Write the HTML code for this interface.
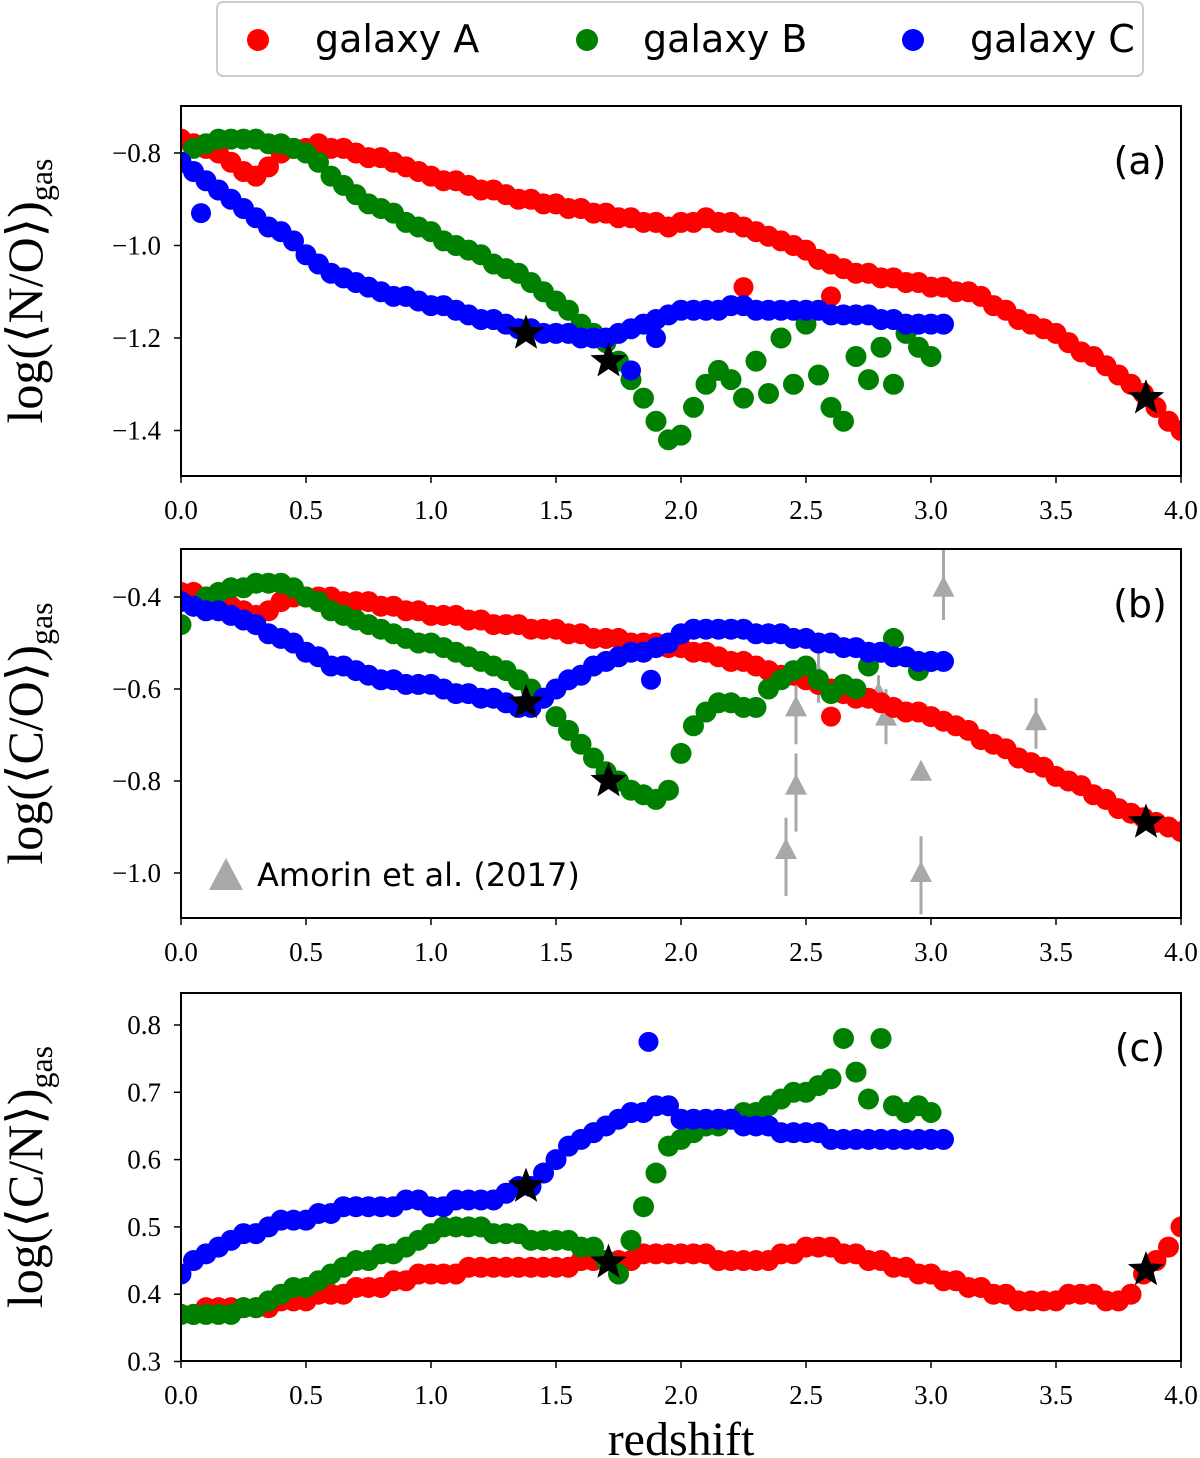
<!DOCTYPE html>
<html><head><meta charset="utf-8"><style>
html,body{margin:0;padding:0;background:#fff;}
svg{display:block;}
</style></head><body>
<svg id="chart" width="1200" height="1458" xmlns="http://www.w3.org/2000/svg"></svg>
<script>
const zGrid=[0,0.05,0.1,0.15,0.2,0.25,0.3,0.35,0.4,0.45,0.5,0.55,0.6,0.65,0.7,0.75,0.8,0.85,0.9,0.95,1.0,1.05,1.1,1.15,1.2,1.25,1.3,1.35,1.4,1.45,1.5,1.55,1.6,1.65,1.7,1.75,1.8,1.85,1.9,1.95,2.0,2.05,2.1,2.15,2.2,2.25,2.3,2.35,2.4,2.45,2.5,2.55,2.6,2.65,2.7,2.75,2.8,2.85,2.9,2.95,3.0,3.05,3.1,3.15,3.2,3.25,3.3,3.35,3.4,3.45,3.5,3.55,3.6,3.65,3.7,3.75,3.8,3.85,3.9,3.95,4.0];
// panel a: N/O
const noA=[-0.77,-0.78,-0.79,-0.80,-0.82,-0.84,-0.85,-0.83,-0.80,-0.79,-0.79,-0.78,-0.79,-0.79,-0.80,-0.81,-0.81,-0.82,-0.83,-0.84,-0.85,-0.86,-0.86,-0.87,-0.88,-0.88,-0.89,-0.90,-0.90,-0.91,-0.91,-0.92,-0.92,-0.93,-0.93,-0.94,-0.94,-0.95,-0.95,-0.96,-0.95,-0.95,-0.94,-0.95,-0.95,-0.96,-0.97,-0.98,-0.99,-1.00,-1.01,-1.03,-1.04,-1.05,-1.06,-1.06,-1.07,-1.07,-1.08,-1.08,-1.09,-1.09,-1.10,-1.10,-1.11,-1.13,-1.14,-1.16,-1.17,-1.18,-1.19,-1.21,-1.23,-1.24,-1.26,-1.28,-1.30,-1.32,-1.35,-1.38,-1.40];
const noB=[-0.82,-0.79,-0.78,-0.77,-0.77,-0.77,-0.77,-0.78,-0.78,-0.79,-0.80,-0.82,-0.85,-0.87,-0.89,-0.91,-0.92,-0.93,-0.95,-0.96,-0.97,-0.99,-1.00,-1.01,-1.02,-1.04,-1.05,-1.06,-1.08,-1.10,-1.12,-1.14,-1.17,-1.19,-1.21,-1.25,-1.29,-1.33,-1.38,-1.42,-1.41,-1.35,-1.30,-1.27,-1.29,-1.33,-1.25,-1.32,-1.20,-1.30,-1.17,-1.28,-1.35,-1.38,-1.24,-1.29,-1.22,-1.30,-1.19,-1.22,-1.24];
const noC=[-0.82,-0.84,-0.86,-0.88,-0.90,-0.92,-0.94,-0.96,-0.97,-0.99,-1.02,-1.04,-1.06,-1.07,-1.08,-1.09,-1.10,-1.11,-1.11,-1.12,-1.13,-1.13,-1.14,-1.15,-1.16,-1.16,-1.17,-1.18,-1.18,-1.19,-1.19,-1.19,-1.20,-1.20,-1.20,-1.19,-1.18,-1.17,-1.16,-1.15,-1.14,-1.14,-1.14,-1.14,-1.13,-1.13,-1.14,-1.14,-1.14,-1.14,-1.14,-1.14,-1.15,-1.15,-1.15,-1.15,-1.16,-1.16,-1.17,-1.17,-1.17,-1.17];
const noOutZ=[2.25,2.6,0.08,1.8,1.9], noOutV=[-1.09,-1.11,-0.93,-1.27,-1.20], noOutS=['A','A','C','C','C'];
// panel b: C/O
const coA=[-0.39,-0.39,-0.40,-0.41,-0.42,-0.43,-0.44,-0.43,-0.41,-0.40,-0.40,-0.40,-0.40,-0.41,-0.41,-0.41,-0.42,-0.42,-0.43,-0.43,-0.44,-0.44,-0.44,-0.45,-0.45,-0.46,-0.46,-0.46,-0.47,-0.47,-0.47,-0.48,-0.48,-0.49,-0.49,-0.49,-0.50,-0.50,-0.50,-0.51,-0.51,-0.52,-0.52,-0.53,-0.54,-0.54,-0.55,-0.56,-0.57,-0.57,-0.58,-0.59,-0.60,-0.61,-0.62,-0.62,-0.63,-0.64,-0.65,-0.65,-0.66,-0.67,-0.68,-0.69,-0.71,-0.72,-0.73,-0.75,-0.76,-0.77,-0.79,-0.80,-0.81,-0.83,-0.84,-0.86,-0.87,-0.88,-0.89,-0.90,-0.91];
const coB=[-0.46,-0.42,-0.40,-0.39,-0.38,-0.38,-0.37,-0.37,-0.37,-0.38,-0.40,-0.41,-0.43,-0.44,-0.45,-0.46,-0.47,-0.48,-0.49,-0.50,-0.50,-0.51,-0.52,-0.53,-0.54,-0.55,-0.56,-0.58,-0.60,-0.62,-0.66,-0.69,-0.72,-0.75,-0.78,-0.80,-0.82,-0.83,-0.84,-0.82,-0.74,-0.68,-0.65,-0.63,-0.63,-0.64,-0.64,-0.60,-0.58,-0.56,-0.55,-0.58,-0.61,-0.59,-0.60,-0.55,-0.52,-0.49,-0.53,-0.56,-0.54];
const coC=[-0.41,-0.42,-0.43,-0.43,-0.44,-0.45,-0.46,-0.48,-0.49,-0.50,-0.52,-0.53,-0.55,-0.55,-0.56,-0.57,-0.58,-0.58,-0.59,-0.59,-0.59,-0.60,-0.61,-0.61,-0.62,-0.62,-0.63,-0.64,-0.64,-0.62,-0.60,-0.58,-0.57,-0.55,-0.54,-0.53,-0.52,-0.52,-0.51,-0.50,-0.48,-0.47,-0.47,-0.47,-0.47,-0.47,-0.48,-0.48,-0.48,-0.49,-0.49,-0.50,-0.50,-0.51,-0.51,-0.52,-0.52,-0.53,-0.53,-0.54,-0.54,-0.54];
const coOutZ=[2.6,1.88], coOutV=[-0.66,-0.58], coOutS=['A','C'];
const obsZ=[2.42,2.46,2.46,2.55,2.79,2.82,2.96,2.96,3.05,3.42];
const obsV=[-0.95,-0.64,-0.81,-0.57,-0.61,-0.66,-0.78,-1.00,-0.38,-0.67];
const obsLo=[-1.05,-0.72,-0.91,-0.63,-0.65,-0.72,-0.80,-1.09,-0.45,-0.73];
const obsHi=[-0.88,-0.58,-0.74,-0.52,-0.57,-0.60,-0.76,-0.92,-0.29,-0.62];
// panel c: C/N
const cnA=[0.37,0.37,0.38,0.38,0.38,0.38,0.38,0.38,0.39,0.39,0.39,0.40,0.40,0.40,0.41,0.41,0.41,0.42,0.42,0.43,0.43,0.43,0.43,0.44,0.44,0.44,0.44,0.44,0.44,0.44,0.44,0.44,0.45,0.45,0.45,0.45,0.45,0.46,0.46,0.46,0.46,0.46,0.46,0.45,0.45,0.45,0.45,0.45,0.46,0.46,0.47,0.47,0.47,0.46,0.46,0.45,0.45,0.44,0.44,0.43,0.43,0.42,0.42,0.41,0.41,0.40,0.40,0.39,0.39,0.39,0.39,0.40,0.40,0.40,0.39,0.39,0.40,0.43,0.45,0.47,0.50];
const cnB=[0.37,0.37,0.37,0.37,0.37,0.38,0.38,0.39,0.40,0.41,0.41,0.42,0.43,0.44,0.45,0.45,0.46,0.46,0.47,0.48,0.49,0.50,0.50,0.50,0.50,0.49,0.49,0.49,0.48,0.48,0.48,0.48,0.47,0.47,0.45,0.43,0.48,0.53,0.58,0.62,0.63,0.64,0.65,0.65,0.66,0.67,0.67,0.68,0.69,0.70,0.70,0.71,0.72,0.78,0.73,0.69,0.78,0.68,0.67,0.68,0.67];
const cnC=[0.43,0.45,0.46,0.47,0.48,0.49,0.49,0.50,0.51,0.51,0.51,0.52,0.52,0.53,0.53,0.53,0.53,0.53,0.54,0.54,0.53,0.53,0.54,0.54,0.54,0.54,0.55,0.56,0.56,0.58,0.60,0.62,0.63,0.64,0.65,0.66,0.67,0.67,0.68,0.68,0.66,0.66,0.66,0.66,0.66,0.65,0.65,0.65,0.64,0.64,0.64,0.64,0.63,0.63,0.63,0.63,0.63,0.63,0.63,0.63,0.63,0.63];
const cnOutZ=[1.87], cnOutV=[0.775], cnOutS=['C'];
const starZ=[1.38,1.71,3.86];
const starNO=[-1.19,-1.25,-1.33], starCO=[-0.63,-0.80,-0.89], starCN=[0.56,0.447,0.436];
const xTicks=[0,0.5,1.0,1.5,2.0,2.5,3.0,3.5,4.0];
const yTicksA=[-0.8,-1.0,-1.2,-1.4], yTicksB=[-0.4,-0.6,-0.8,-1.0], yTicksC=[0.8,0.7,0.6,0.5,0.4,0.3];

const NS="http://www.w3.org/2000/svg", svg=document.getElementById('chart');
const COL={A:'#ff0000',B:'#008000',C:'#0000ff'};
function el(t,a,p){const e=document.createElementNS(NS,t);for(const k in a)e.setAttribute(k,a[k]);(p||svg).appendChild(e);return e;}
const X0=181,X1=1181;
function xs(z){return X0+(z/4)*(X1-X0);}
const panels=[
 {key:'a',top:106,bot:476,vTop:153,vTopVal:-0.8,pxPer:462.5,ticks:yTicksA,fmt:v=>'\u2212'+Math.abs(v).toFixed(1),series:[noA,noB,noC],oz:noOutZ,ov:noOutV,os:noOutS,stars:starNO,label:'N/O'},
 {key:'b',top:549,bot:918,vTop:597,vTopVal:-0.4,pxPer:460,ticks:yTicksB,fmt:v=>'\u2212'+Math.abs(v).toFixed(1),series:[coA,coB,coC],oz:coOutZ,ov:coOutV,os:coOutS,stars:starCO,label:'C/O'},
 {key:'c',top:993,bot:1361,vTop:1025,vTopVal:0.8,pxPer:673,ticks:yTicksC,fmt:v=>v.toFixed(1),series:[cnA,cnB,cnC],oz:cnOutZ,ov:cnOutV,os:cnOutS,stars:starCN,label:'C/N'}
];
function starPath(cx,cy,R){const r=R*0.42;let d='';for(let i=0;i<10;i++){const a=-Math.PI/2+i*Math.PI/5;const rr=i%2?r:R;d+=(i?'L':'M')+(cx+rr*Math.cos(a)).toFixed(1)+','+(cy+rr*Math.sin(a)).toFixed(1);}return d+'Z';}
panels.forEach(p=>{
  const ys=v=>p.vTop-(v-p.vTopVal)*p.pxPer;
  const g=el('g',{});  
  const clipId='clip'+p.key;
  const cp=el('clipPath',{id:clipId},g); el('rect',{x:X0,y:p.top,width:X1-X0,height:p.bot-p.top},cp);
  const plot=el('g',{'clip-path':'url(#'+clipId+')'},g);
  const names=['A','B','C'];
  if(p.key==='b'){
    const og=el('g',{},plot);  
    obsZ.forEach((z,i)=>{
      el('line',{x1:xs(z),x2:xs(z),y1:ys(obsLo[i]),y2:ys(obsHi[i]),stroke:'#a8a8a8','stroke-width':3},og);
      const cx=xs(z),cy=ys(obsV[i]);
      const t=el('polygon',{points:`${cx},${cy-12} ${cx-11},${cy+9} ${cx+11},${cy+9}`,fill:'#a8a8a8'},og);
      
      
    });
  }
  p.series.forEach((vals,si)=>{
    const sg=el('g',{fill:COL[names[si]]},plot);
    
    
    vals.forEach((v,i)=>{el('circle',{cx:xs(zGrid[i]),cy:ys(v),r:10.5},sg);});
    p.oz.forEach((z,i)=>{ if(p.os[i]===names[si]) el('circle',{cx:xs(z),cy:ys(p.ov[i]),r:10},sg);});
  });
  const stg=el('g',{},plot);  
  starZ.forEach((z,i)=>{el('path',{d:starPath(xs(z),ys(p.stars[i]),19),fill:'#000'},stg);});
  const fr=el('rect',{x:X0,y:p.top,width:X1-X0,height:p.bot-p.top,fill:'none',stroke:'#000','stroke-width':2},g);
   
  xTicks.forEach(t=>{
    el('line',{x1:xs(t),x2:xs(t),y1:p.bot,y2:p.bot+7,stroke:'#000','stroke-width':1.5},g);
    const tx=el('text',{x:xs(t),y:p.bot+43,'text-anchor':'middle','font-family':'Liberation Serif, serif','font-size':27},g);
    tx.textContent=t.toFixed(1);
     
  });
  p.ticks.forEach(t=>{
    const y=ys(t);
    el('line',{x1:X0-7,x2:X0,y1:y,y2:y,stroke:'#000','stroke-width':1.5},g);
    const tx=el('text',{x:X0-20,y:y+9,'text-anchor':'end','font-family':'Liberation Serif, serif','font-size':27},g);
    tx.textContent=p.fmt(t);
     
  });
  const lt=el('text',{x:1140,y:p.top+68,'text-anchor':'middle','font-family':'DejaVu Sans, sans-serif','font-size':38},g);
  lt.textContent='('+p.key+')';  
  const cy=(p.top+p.bot)/2;
  const yl=el('text',{transform:`translate(42,${cy}) rotate(-90)`,'text-anchor':'middle','font-family':'Liberation Serif, serif','font-size':50},g);
  yl.innerHTML='log(\u27e8'+p.label+'\u27e9)<tspan font-size="32" dy="10">gas</tspan>';
   
});
const al=el('g',{});  
el('polygon',{points:'226,858 209,890 243,890',fill:'#a8a8a8'},al);
const at=el('text',{x:257,y:886,'font-family':'DejaVu Sans, sans-serif','font-size':32},al); at.textContent='Amorin et al. (2017)';
const xl=el('text',{x:681,y:1455,'text-anchor':'middle','font-family':'Liberation Serif, serif','font-size':48});
xl.textContent='redshift';  
const lg=el('g',{});  
el('rect',{x:217,y:2,width:926,height:74,rx:6,fill:'#fff',stroke:'#ccc','stroke-width':2},lg);
[['A',258,315],['B',587,643],['C',913,970]].forEach(([n,cx,tx])=>{
  const e=el('g',{},lg);  
  el('circle',{cx:cx,cy:40,r:11,fill:COL[n]},e);
  const t=el('text',{x:tx,y:52,'font-family':'DejaVu Sans, sans-serif','font-size':38},e); t.textContent='galaxy '+n;
});
</script>
</body></html>
